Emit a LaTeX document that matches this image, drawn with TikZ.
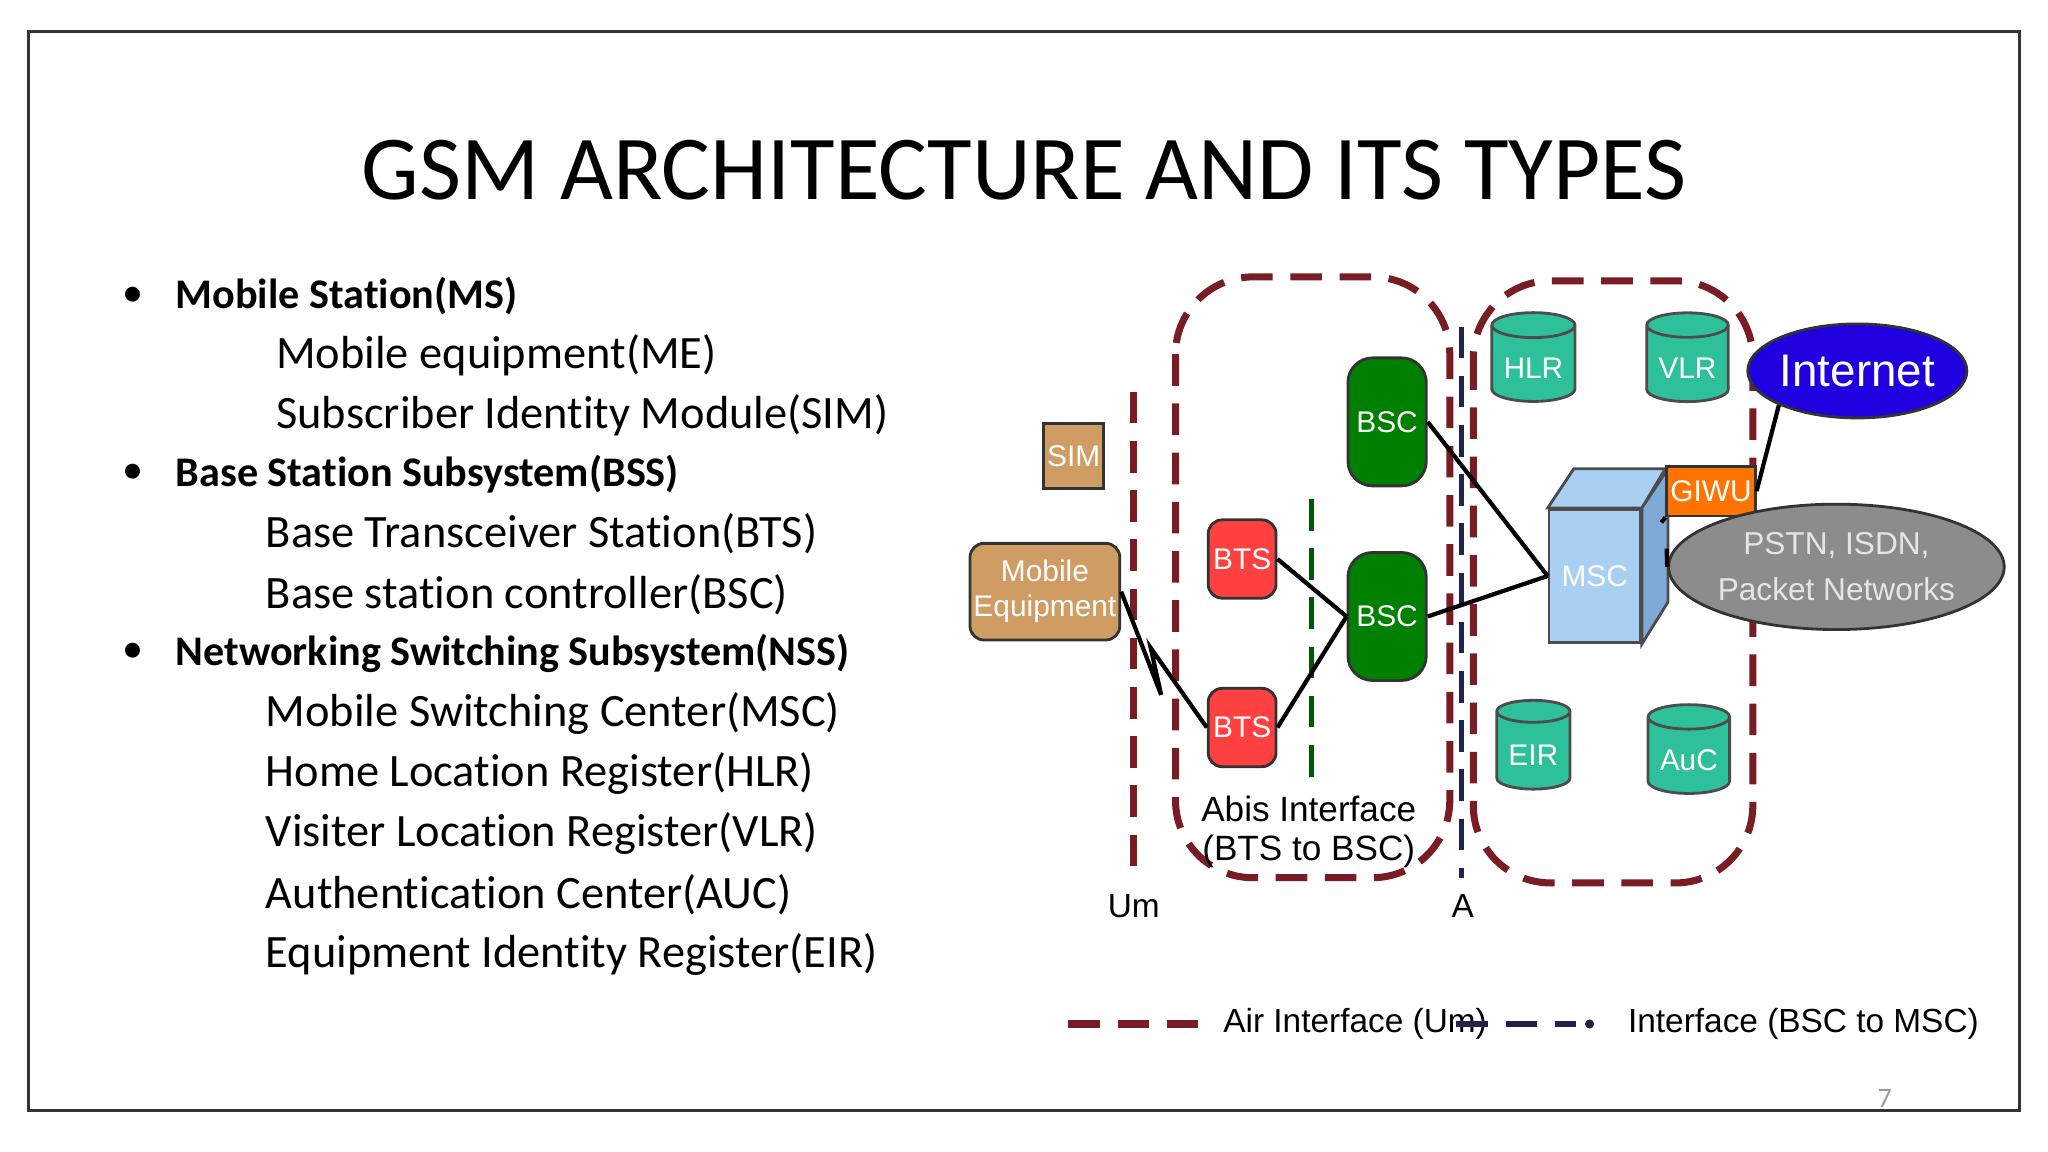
\documentclass[tikz,border=0pt]{standalone}
\usepackage{fontspec}
\setmainfont{Carlito}[Ligatures=NoCommon]
\newfontfamily\narrow{Liberation Sans}
\usetikzlibrary{calc,positioning,shapes.geometric}
\definecolor{dred}{HTML}{7A1C24}
\definecolor{dnavy}{HTML}{1F2350}
\definecolor{tan}{HTML}{CF9C63}
\definecolor{teal}{HTML}{2EC09A}
\definecolor{cubef}{HTML}{A9D0F2}
\definecolor{cubes}{HTML}{7FAAD6}

\begin{document}
\begin{tikzpicture}
    [
        x=0.01306cm, y=-0.01306cm,
        box/.style={draw=black!80, thick, rounded corners=4pt, font=\narrow\fontsize{8.5}{10}\selectfont, align=center, inner sep=1pt},
        bts/.style={box, fill=red!75!white, minimum width=52*0.1306mm, minimum height=60*0.1306mm, text=white},
        bsc/.style={box, fill=green!50!black, minimum width=60*0.1306mm, minimum height=98*0.1306mm, text=white, rounded corners=7pt},
        db/.style={cylinder, shape border rotate=90, aspect=0.3, draw=black!70, thick, fill=teal, minimum width=48*0.1306mm, minimum height=68*0.1306mm, text=white, font=\narrow\fontsize{8.5}{10}\selectfont},
        link/.style={black, very thick},
        airline/.style={dred, line width=2pt, dash pattern=on 9pt off 5pt},
        aline/.style={dnavy, line width=1.6pt, dash pattern=on 9pt off 5pt},
        abis/.style={green!35!black, line width=1.6pt, dash pattern=on 9pt off 5pt},
        lbl/.style={font=\narrow\fontsize{9.5}{11}\selectfont},
        sub/.style={anchor=west, font=\fontsize{13.2}{15}\selectfont},
        head/.style={anchor=west, font=\bfseries\fontsize{12}{15}\selectfont},
        dot/.style={anchor=east, font=\fontsize{12}{15}\selectfont}
    ]
%    \draw[style=help lines,step=100] (0,0) grid (1568,882);
    \useasboundingbox (0,0) rectangle (1568,882);
    \draw[black!80, thick] (22,24) rectangle (1546,850);
    \node[font=\fontsize{26}{30}\selectfont] (title) at (784,130) {GSM ARCHITECTURE AND ITS TYPES};

    % bullet list
    \node[head] (ms) at (125,227) {Mobile Station(MS)};
    \node[sub] (me) at (202,272) {Mobile equipment(ME)};
    \node[sub] (sim) at (202,318) {Subscriber Identity Module(SIM)};
    \node[head] (bss) at (125,363) {Base Station Subsystem(BSS)};
    \node[sub] (btsi) at (194,409) {Base Transceiver Station(BTS)};
    \node[sub] (bsci) at (194,455) {Base station controller(BSC)};
    \node[head] (nss) at (125,500) {Networking Switching Subsystem(NSS)};
    \node[sub] (msci) at (194,546) {Mobile Switching Center(MSC)};
    \node[sub] (hlri) at (194,592) {Home Location Register(HLR)};
    \node[sub] (vlri) at (194,638) {Visiter Location Register(VLR)};
    \node[sub] (auci) at (194,685) {Authentication Center(AUC)};
    \node[sub] (eiri) at (194,731) {Equipment Identity Register(EIR)};
    \foreach \n in {ms,bss,nss}
        \node[dot] at ($(\n.west)+(-6,0)$) {\textbullet};

    % interfaces
    \draw[airline, rounded corners=22pt] (900,212) rectangle (1110,672);
    \draw[airline, rounded corners=22pt] (1128,215) rectangle (1342,676);
    \draw[airline] (868,300) -- (868,668);
    \draw[aline] (1119,250) -- (1119,672);
    \draw[abis] (1004,382) -- (1004,600);
    \node[lbl] (um) at (868,694) {Um};
    \node[lbl] (a) at (1120,694) {A};
    \node[lbl, align=center, font=\narrow\fontsize{10}{11}\selectfont] (abisl) at (1002,637) {Abis Interface\\(BTS to BSC)};

    % mobile station
    \node[box, fill=tan, rounded corners=0pt, minimum width=32*0.1306mm, minimum height=50*0.1306mm, text=white] (simb) at (822,349) {SIM};
    \node[box, fill=tan, minimum width=84*0.1306mm, minimum height=74*0.1306mm, text=white] (meb) at (800,453) {Mobile\\Equipment};

    % base station subsystem
    \node[bts] (bts1) at (951,428) {BTS};
    \node[bts] (bts2) at (951,557) {BTS};
    \node[bsc] (bsc1) at (1062,323) {BSC};
    \node[bsc] (bsc2) at (1062,472) {BSC};

    % network switching subsystem
    \node[db] (hlr) at (1174,282) {HLR};
    \node[db] (vlr) at (1292,282) {VLR};
    \node[db] (eir) at (1174,578) {EIR};
    \node[db] (auc) at (1293,582) {AuC};
    \node[draw=black!70, thick, fill=cubef, minimum width=70*0.1306mm, minimum height=102*0.1306mm, inner sep=0pt, text=white, font=\narrow\fontsize{8.5}{10}\selectfont] (msc) at (1221,441) {MSC};
    \draw[black!70, thick, fill=cubef] (msc.north west) -- ++(20,-30) -- ++(70,0) -- (msc.north east) -- cycle;
    \draw[black!70, thick, fill=cubes] (msc.north east) -- ++(20,-30) -- ++(0,102) -- (msc.south east) -- cycle;
    \coordinate (mscg) at (1272,400);
    \coordinate (mscp) at (1276,420);
    \node[box, rounded corners=0pt, fill=orange!90!red, minimum width=52*0.1306mm, minimum height=38*0.1306mm, text=white] (giwu) at (1310,376) {GIWU};
    \node[ellipse, draw=black!80, thick, fill=blue!75!violet, minimum width=132*0.1306mm, minimum height=72*0.1306mm, inner sep=0pt, text=white, font=\narrow\fontsize{13}{14}\selectfont] (inet) at (1422,284) {Internet};
    \node[ellipse, draw=black!80, thick, fill=black!45, minimum width=144*0.1306mm, minimum height=96*0.1306mm, text=white!90!black, align=center, inner sep=0pt, font=\narrow\fontsize{9}{13}\selectfont] (pstn) at (1406,434) {PSTN, ISDN,\\Packet Networks};

    % links
    \coordinate (z1) at (889,532);
    \coordinate (z2) at (881,496);
    \draw[link] (meb.east) -- (z1) -- (z2) -- (bts2.west);
    \draw[link] (bts1.east) -- (bsc2.west);
    \draw[link] (bts2.east) -- (bsc2.west);
    \draw[link] (bsc1.east) -- (msc.west);
    \draw[link] (bsc2.east) -- (msc.west);
    \draw[link] (mscg) -- (giwu.south west);
    \draw[link] (giwu.east) -- (inet.south west);
    \draw[link] (mscp) -- (pstn.west);

    % legend
    \coordinate (l1) at (818,784);
    \coordinate (l2) at (1115,784);
    \draw[airline] (l1) -- ++(107,0) node[right, black, lbl] (airl) {Air Interface (Um)};
    \draw[aline] (l2) -- ++(92,0);
    \fill[dnavy] ($(l2)+(102,0)$) circle (1.3pt);
    \node[right, black, lbl] (bscl) at ($(l2)+(122,0)$) {Interface (BSC to MSC)};
    \node[text=black!40, font=\fontsize{8}{8}\selectfont] (pg) at (1443,841) {7};
\end{tikzpicture}
\end{document}
